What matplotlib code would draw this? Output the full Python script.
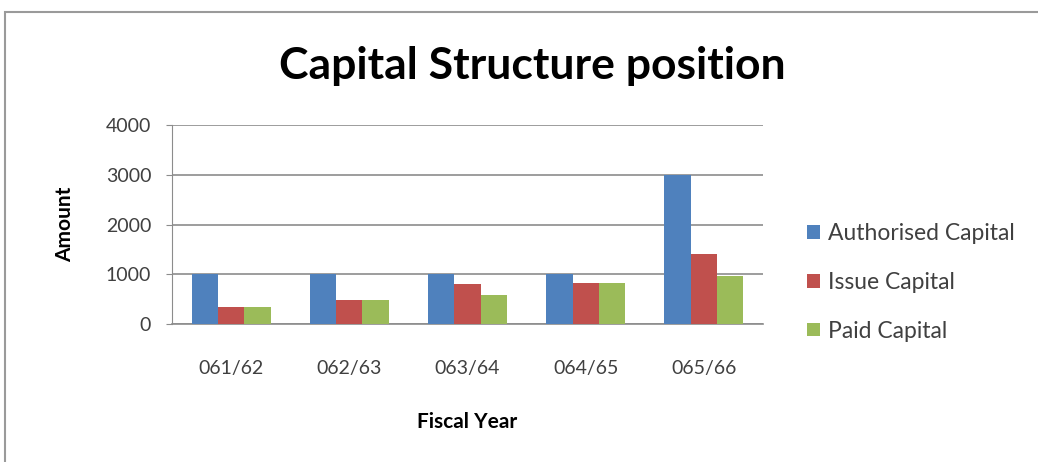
import matplotlib
matplotlib.use("Agg")
import matplotlib.pyplot as plt
import numpy as np
from matplotlib.patches import Rectangle

years = ["061/62", "062/63", "063/64", "064/65", "065/66"]
authorised = [1000, 1000, 1000, 1000, 3000]
issue = [350, 480, 800, 820, 1410]
paid = [350, 480, 590, 820, 960]
series_names = ["Authorised Capital", "Issue Capital", "Paid Capital"]
colors = ["#4F81BD", "#C0504D", "#9BBB59"]

plt.rcParams["font.family"] = ["Lato", "DejaVu Sans"]

fig = plt.figure(figsize=(10.38, 4.62), dpi=100)
fig.patch.set_facecolor("white")

# chart frame
fig.add_artist(Rectangle((5 / 1038, -0.01), 1.02, 1 - 12 / 462 + 0.01,
                         transform=fig.transFigure, fill=False,
                         edgecolor="#9a9a9a", linewidth=1.5))

ax = fig.add_axes([172 / 1038, 1 - 324 / 462, (763 - 172) / 1038, (324 - 125) / 462])

x = np.arange(len(years))
w = 1 / 4.5
for i, (vals, name, c) in enumerate(zip([authorised, issue, paid], series_names, colors)):
    ax.bar(x + (i - 1) * w, vals, width=w, color=c, label=name, zorder=3)

ax.set_xlim(-0.5, len(years) - 0.5)
ax.set_ylim(0, 4000)
ax.set_yticks([0, 1000, 2000, 3000, 4000])
ax.set_xticks(x)
ax.set_xticklabels(years)
ax.yaxis.grid(True, color="#8c8c8c", linewidth=1.2, zorder=0)
ax.tick_params(axis="x", length=0, pad=26, labelsize=14, labelcolor="#404040")
ax.tick_params(axis="y", length=4, color="#8c8c8c", pad=11, labelsize=14, labelcolor="#404040")
for s in ["top", "right"]:
    ax.spines[s].set_visible(False)
ax.spines["left"].set_color("#8c8c8c")
ax.spines["bottom"].set_color("#8c8c8c")
ax.spines["bottom"].set_linewidth(1.2)

ax.set_xlabel("Fiscal Year", fontsize=15, fontweight="bold", labelpad=25)
ax.set_ylabel("Amount", fontsize=15, fontweight="bold", labelpad=22)

fig.text(532 / 1038, 1 - 66 / 462, "Capital Structure position", fontsize=32,
         fontweight="bold", ha="center", va="center")

ax.legend(loc="center left", bbox_to_anchor=(1.04, 0.21), frameon=False,
          fontsize=16.5, handlelength=0.55, handleheight=0.55, handletextpad=0.35,
          labelspacing=1.22, labelcolor="#404040")

fig.savefig("out.png", dpi=100)
